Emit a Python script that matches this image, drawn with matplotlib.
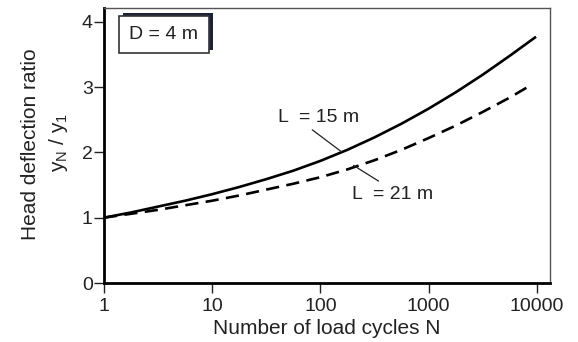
import matplotlib.pyplot as plt
from matplotlib.patches import Rectangle

plt.rcParams['font.family'] = ['Liberation Sans', 'DejaVu Sans']
plt.rcParams['mathtext.fontset'] = 'custom'
plt.rcParams['mathtext.rm'] = 'Liberation Sans'
plt.rcParams['mathtext.it'] = 'Liberation Sans'

# values (quarter-decade steps)
cycles_L15 = [1, 1.78, 3.16, 5.62, 10, 17.8, 31.6, 56.2, 100, 178, 316, 562,
              1000, 1778, 3162, 5623, 9800]
ratio_L15 = [1.00, 1.08, 1.17, 1.26, 1.36, 1.47, 1.59, 1.72, 1.87, 2.04, 2.23,
             2.44, 2.67, 2.92, 3.19, 3.48, 3.77]
cycles_L21 = [1, 1.78, 3.16, 5.62, 10, 17.8, 31.6, 56.2, 100, 178, 316, 562,
              1000, 1778, 3162, 5623, 8800]
ratio_L21 = [1.00, 1.06, 1.12, 1.19, 1.26, 1.34, 1.43, 1.52, 1.62, 1.74, 1.88,
             2.04, 2.22, 2.41, 2.62, 2.84, 3.03]
xticks = [1, 10, 100, 1000, 10000]
xticklabels = ['1', '10', '100', '1000', '10000']
yticks = [0, 1, 2, 3, 4]

fig = plt.figure(figsize=(5.78, 3.42), dpi=100)
ax = fig.add_axes([0.1799, 0.1725, 0.7717, 0.8041])

ax.plot(cycles_L15, ratio_L15, color='black', lw=1.9, solid_capstyle='butt')
ax.plot(cycles_L21, ratio_L21, color='black', lw=1.9, dashes=(5, 2.8))

ax.set_xscale('log')
ax.set_xlim(1, 13200)
ax.set_ylim(0, 4.21)
ax.set_xticks(xticks)
ax.set_xticklabels(xticklabels)
ax.minorticks_off()
ax.set_yticks(yticks)
ax.tick_params(direction='out', length=7, width=1, labelsize=14, colors='#222222')
ax.tick_params(axis='y', pad=1)
ax.tick_params(axis='x', pad=4)

ax.spines['left'].set_linewidth(2)
ax.spines['bottom'].set_linewidth(2)
for s in ['top', 'right']:
    ax.spines[s].set_linewidth(1)
    ax.spines[s].set_color('#555555')

ax.set_xlabel('Number of load cycles N', fontsize=15, labelpad=3, color='#222222')
fig.text(0.052, 0.579, 'Head deflection ratio', rotation=90, fontsize=15,
         ha='center', va='center', color='#222222')
fig.text(0.102, 0.585, r'y$_\mathregular{N}$ / y$_\mathregular{1}$', rotation=90,
         fontsize=15, ha='center', va='center', color='#222222')

# D = 4 m box with shadow
ax.add_patch(Rectangle((0.0426, 0.847), 0.2018, 0.135, transform=ax.transAxes,
                       facecolor='#1c2238', edgecolor='none', zorder=3))
ax.add_patch(Rectangle((0.0336, 0.836), 0.2018, 0.135, transform=ax.transAxes,
                       facecolor='white', edgecolor='#333333', lw=1.2, zorder=4))
ax.text(0.1345, 0.9035, 'D = 4 m', transform=ax.transAxes, fontsize=14,
        ha='center', va='center', color='#222222', zorder=5)

# curve labels with leader lines
ax.text(96, 2.53, 'L  = 15 m', fontsize=14, ha='center', va='center', color='#222222')
ax.annotate('', xy=(156, 2.01), xytext=(84, 2.345),
            arrowprops=dict(arrowstyle='-', lw=0.9, color='#222222',
                            shrinkA=0, shrinkB=0))
ax.text(464, 1.35, 'L  = 21 m', fontsize=14, ha='center', va='center', color='#222222')
ax.annotate('', xy=(344, 1.56), xytext=(202, 1.80),
            arrowprops=dict(arrowstyle='-', lw=0.9, color='#222222',
                            shrinkA=0, shrinkB=0))

fig.savefig('out.png', dpi=100, facecolor='white')
